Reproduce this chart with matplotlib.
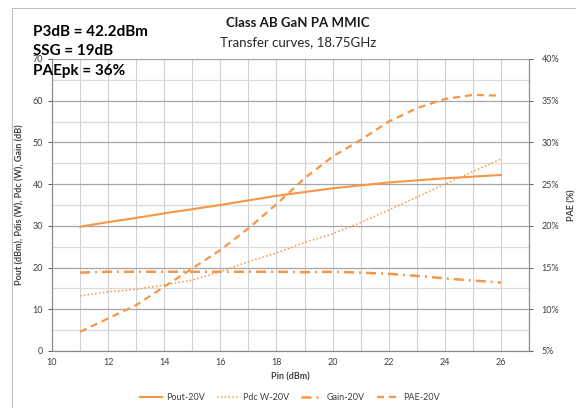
import numpy as np
import matplotlib.pyplot as plt
from matplotlib.patches import Rectangle
from matplotlib.ticker import MultipleLocator, FuncFormatter

# Data
pin = [11, 12, 13, 14, 15, 16, 17, 18, 19, 20, 21, 22, 23, 24, 25, 26]
pout = [29.8, 30.9, 31.9, 33.0, 34.0, 35.0, 36.1, 37.2, 38.1, 39.0,
        39.7, 40.4, 40.9, 41.4, 41.8, 42.2]
pdc = [13.2, 14.2, 14.8, 15.8, 17.0, 19.0, 21.4, 23.5, 26.0, 28.1,
       30.8, 33.8, 36.9, 40.0, 43.0, 46.0]
gain = [18.8, 19.0, 19.0, 19.0, 19.0, 19.0, 19.0, 19.0, 18.9, 19.0,
        18.8, 18.5, 18.0, 17.4, 16.9, 16.4]
pae = [7.3, 8.9, 10.5, 12.7, 14.9, 17.1, 19.7, 22.6, 25.7, 28.3,
       30.3, 32.5, 34.1, 35.2, 35.7, 35.6]

orange = '#F79646'
plt.rcParams['font.family'] = ['Lato', 'DejaVu Sans']

fig = plt.figure(figsize=(5.76, 4.08), dpi=100)
W, H = 576, 408
ax = fig.add_axes([52 / W, 1 - 351 / H, (529 - 52) / W, (351 - 59) / H])
ax2 = ax.twinx()

# outer chart frame
fig.patches.append(Rectangle((12 / W, -0.01), 1.0, 1 - 8 / H + 0.01,
                             transform=fig.transFigure, fill=False,
                             edgecolor='#bfbfbf', linewidth=0.8))

l1, = ax.plot(pin, pout, color=orange, lw=1.5, label='Pout-20V')
l2, = ax.plot(pin, pdc, color=orange, lw=1.1, linestyle=(0, (1, 1.5)), label='Pdc W-20V')
l3, = ax.plot(pin, gain, color=orange, lw=1.8, linestyle=(0, (4, 2, 0.8, 2)), label='Gain-20V')
l4, = ax2.plot(pin, pae, color=orange, lw=1.6, linestyle=(0, (3.2, 2.2)), label='PAE-20V')

ax.set_xlim(10, 27)
ax.set_ylim(0, 70)
ax2.set_ylim(5, 40)

ax.xaxis.set_major_locator(MultipleLocator(2))
ax.xaxis.set_minor_locator(MultipleLocator(1))
ax.yaxis.set_major_locator(MultipleLocator(10))
ax.yaxis.set_minor_locator(MultipleLocator(5))
ax2.yaxis.set_major_locator(MultipleLocator(5))
ax2.yaxis.set_major_formatter(FuncFormatter(lambda v, p: f'{v:.0f}%'))
ax.set_xticks([10, 12, 14, 16, 18, 20, 22, 24, 26])

ax.grid(which='major', axis='y', color='#a6a6a6', lw=0.9)
ax.grid(which='minor', axis='y', color='#d9d9d9', lw=0.9)
ax.grid(which='both', axis='x', color='#d0d0d0', lw=0.8)
ax.set_axisbelow(True)

for a in (ax, ax2):
    for s in a.spines.values():
        s.set_color('#8c8c8c')
        s.set_linewidth(0.8)
    a.spines['top'].set_visible(False)
ax.tick_params(which='both', labelsize=6.5, colors='#404040', length=3, width=0.6)
ax.tick_params(which='minor', length=0)
ax.tick_params(axis='x', which='major', length=0, pad=5)
ax2.tick_params(labelsize=6.5, colors='#404040', length=3, width=0.6, pad=6)

ax.set_xlabel('Pin (dBm)', fontsize=6.5, fontweight='bold', color='#404040', labelpad=4)
ax.set_ylabel('Pout (dBm), Pdis (W), Pdc (W), Gain (dB)', fontsize=6.5,
              fontweight='bold', color='#404040', labelpad=6)
ax2.set_ylabel('PAE (%)', fontsize=6.5, fontweight='bold', color='#404040', labelpad=6)

fig.text(298 / W, 1 - 23 / H, 'Class AB GaN PA MMIC', ha='center', va='center',
         fontsize=9.5, fontweight='bold', color='#1a1a1a')
fig.text(298 / W, 1 - 42 / H, 'Transfer curves, 18.75GHz', ha='center', va='center',
         fontsize=9.5, color='#262626')

for txt, y in [('P3dB = 42.2dBm', 32), ('SSG = 19dB', 51), ('PAEpk = 36%', 71)]:
    fig.text(33 / W, 1 - y / H, txt, ha='left', va='center', fontsize=11,
             fontweight='bold', color='black')

fig.legend(handles=[l1, l2, l3, l4], loc='center', bbox_to_anchor=(290 / W, 1 - 398 / H),
           ncol=4, frameon=False, fontsize=6.5, handlelength=2.4, columnspacing=1.4,
           handletextpad=0.4, labelcolor='#404040')

fig.savefig('out.png', dpi=100)
